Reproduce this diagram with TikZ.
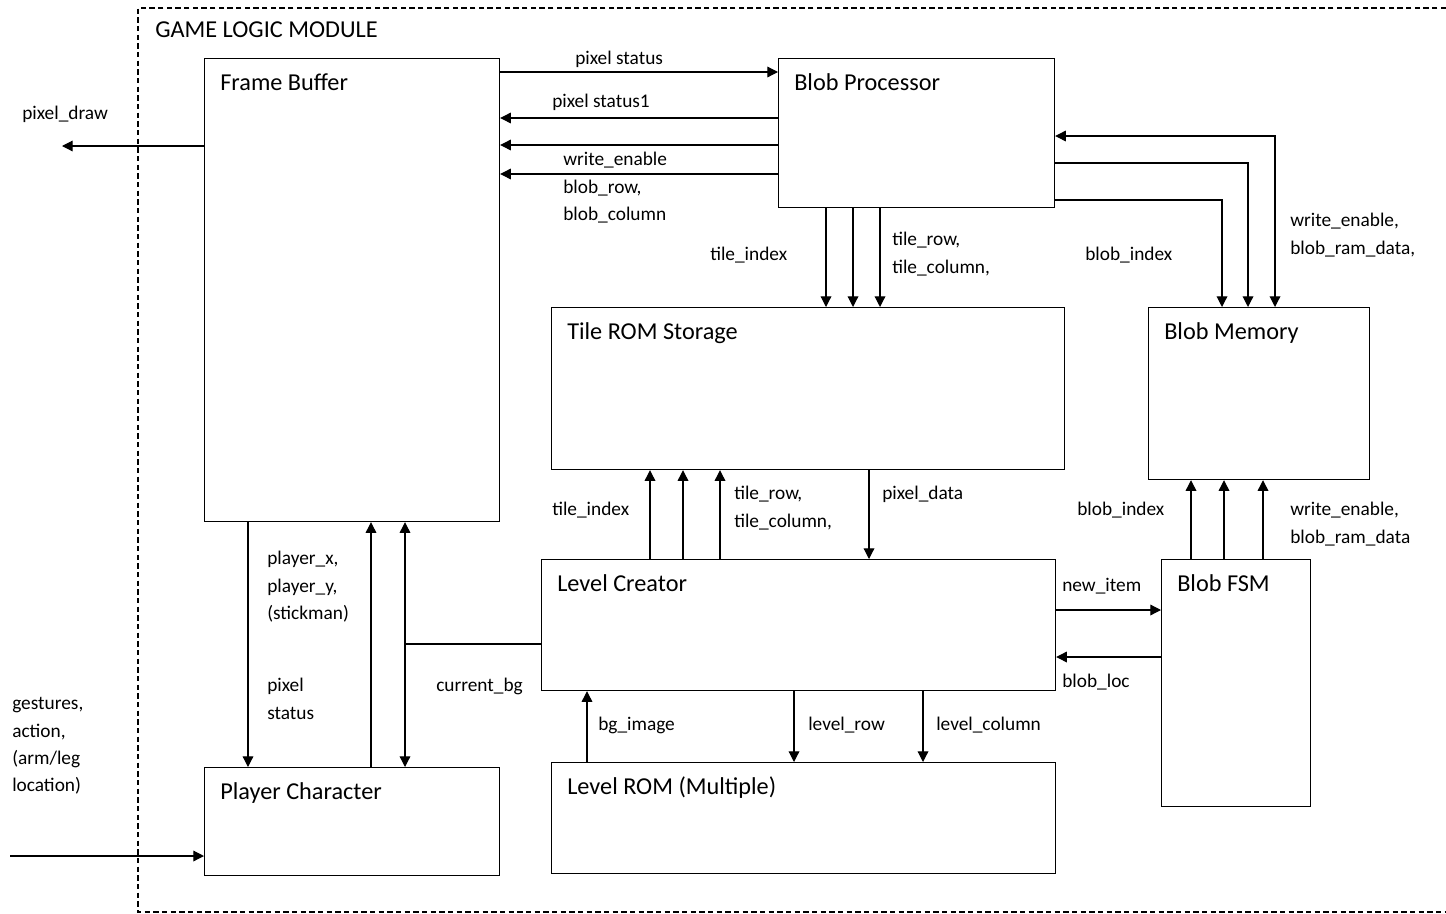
\documentclass[tikz,border=0pt]{standalone}
\usepackage{fontspec}
\setmainfont{Carlito}
\usetikzlibrary{arrows.meta}

\tikzset{
  block/.style={draw, line width=0.9pt, inner sep=0pt, anchor=north west},
  blocktitle/.style={anchor=base west, inner sep=0pt, xshift=12pt, yshift=-24pt,
    font=\fontsize{18.2}{20}\selectfont},
  sig/.style={anchor=west, align=left, inner sep=0pt,
    font=\fontsize{14.5}{20.6}\selectfont},
  wire/.style={line width=0.9pt, -{Triangle[length=8pt,width=8pt]}},
  wiretwo/.style={line width=0.9pt, {Triangle[length=8pt,width=8pt]}-{Triangle[length=8pt,width=8pt]}},
  plainwire/.style={line width=0.9pt}
}

\begin{document}
\begin{tikzpicture}[x=0.75pt, y=-0.75pt]
  \useasboundingbox (0,0) rectangle (1446,914);

  % module frame
  \draw[line width=0.8pt, dash pattern=on 4pt off 2.5pt]
    (1446,8) -- (138,8) -- (138,912) -- (1446,912);
  \node[anchor=west, inner sep=0pt, font=\fontsize{18.2}{20}\selectfont] (glm) at (155,30) {GAME LOGIC MODULE};

  % blocks
  \node[block, minimum width=221.25pt, minimum height=347.25pt] (fb)   at (204,58)  {};
  \node[block, minimum width=207pt,    minimum height=111.75pt] (bp)   at (778,58)  {};
  \node[block, minimum width=384.75pt, minimum height=121.5pt]  (tr)   at (551,307) {};
  \node[block, minimum width=165.75pt, minimum height=129pt]    (bm)   at (1148,307) {};
  \node[block, minimum width=385.5pt,  minimum height=98.25pt]  (lc)   at (541,559) {};
  \node[block, minimum width=111.75pt, minimum height=185.25pt] (bfsm) at (1161,559) {};
  \node[block, minimum width=221.25pt, minimum height=81pt]     (pc)   at (204,767) {};
  \node[block, minimum width=378pt,    minimum height=83.25pt]  (lr)   at (551,762) {};

  \node[blocktitle] (fbt)   at (fb.north west)   {Frame Buffer};
  \node[blocktitle] (bpt)   at (bp.north west)   {Blob Processor};
  \node[blocktitle] (trt)   at (tr.north west)   {Tile ROM Storage};
  \node[blocktitle] (bmt)   at (bm.north west)   {Blob Memory};
  \node[blocktitle] (lct)   at (lc.north west)   {Level Creator};
  \node[blocktitle] (bfsmt) at (bfsm.north west) {Blob FSM};
  \node[blocktitle] (pct)   at (pc.north west)   {Player Character};
  \node[blocktitle] (lrt)   at (lr.north west)   {Level ROM (Multiple)};

  % free ends
  \coordinate (pdout) at (62,146);
  \coordinate (gin)   at (10,856);
  \coordinate (cbg)   at (405,644);

  % frame buffer <-> blob processor
  \draw[wire] (fb.east |- 0,72)  -- (bp.west |- 0,72);
  \draw[wire] (bp.west |- 0,118) -- (fb.east |- 0,118);
  \draw[wire] (bp.west |- 0,145) -- (fb.east |- 0,145);
  \draw[wire] (bp.west |- 0,174) -- (fb.east |- 0,174);
  \draw[wire] (fb.west |- 0,146) -- (pdout);

  % blob processor -> tile rom, blob memory
  \foreach \x in {826,853,880}
    \draw[wire] (bp.south -| \x,0) -- (tr.north -| \x,0);
  \draw[wiretwo] (bm.north -| 1275,0) |- (bp.east |- 0,136);
  \draw[wire] (bp.east |- 0,163) -| (bm.north -| 1248,0);
  \draw[wire] (bp.east |- 0,200) -| (bm.north -| 1222,0);

  % level creator <-> tile rom
  \foreach \x in {650,683,720}
    \draw[wire] (lc.north -| \x,0) -- (tr.south -| \x,0);
  \draw[wire] (tr.south -| 869,0) -- (lc.north -| 869,0);

  % blob fsm
  \foreach \x in {1191,1224,1263}
    \draw[wire] (bfsm.north -| \x,0) -- (bm.south -| \x,0);
  \draw[wire] (lc.east |- 0,610) -- (bfsm.west |- 0,610);
  \draw[wire] (bfsm.west |- 0,657) -- (lc.east |- 0,657);

  % level creator <-> level rom
  \foreach \x in {794,923}
    \draw[wire] (lc.south -| \x,0) -- (lr.north -| \x,0);
  \draw[wire] (lr.north -| 587,0) -- (lc.south -| 587,0);

  % player character
  \draw[wire] (fb.south -| 248,0) -- (pc.north -| 248,0);
  \draw[wire] (pc.north -| 371,0) -- (fb.south -| 371,0);
  \draw[wiretwo] (fb.south -| 405,0) -- (pc.north -| 405,0);
  \draw[plainwire] (lc.west |- 0,644) -- (cbg);
  \draw[wire] (gin) -- (pc.west |- 0,856);

  % signal labels
  \node[sig] (lpixstat)  at (575,59)   {pixel status};
  \node[sig] (lpixstatb) at (552,102)  {pixel status1};
  \node[sig] (lwe)       at (563,188)  {write\_enable\\blob\_row,\\blob\_column};
  \node[sig] (lpixdraw)  at (22,114)   {pixel\_draw};
  \node[sig] (ltidx)     at (710,255)  {tile\_index};
  \node[sig] (ltrc)      at (892,254)  {tile\_row,\\tile\_column,};
  \node[sig] (lbidx)     at (1085,255) {blob\_index};
  \node[sig] (lbram)     at (1290,235) {write\_enable,\\blob\_ram\_data,};
  \node[sig] (ltidxb)    at (552,510)  {tile\_index};
  \node[sig] (ltrcb)     at (734,508)  {tile\_row,\\tile\_column,};
  \node[sig] (lpixdata)  at (882,494)  {pixel\_data};
  \node[sig] (lbidxb)    at (1077,510) {blob\_index};
  \node[sig] (lbramb)    at (1290,524) {write\_enable,\\blob\_ram\_data};
  \node[sig] (lnew)      at (1062,586) {new\_item};
  \node[sig] (lloc)      at (1062,682) {blob\_loc};
  \node[sig] (lbg)       at (598,725)  {bg\_image};
  \node[sig] (llrow)     at (808,725)  {level\_row};
  \node[sig] (llcol)     at (936,725)  {level\_column};
  \node[sig] (lplayer)   at (267,587)  {player\_x,\\player\_y,\\(stickman)};
  \node[sig] (lpstat)    at (267,699)  {pixel\\status};
  \node[sig] (lcbg)      at (436,686)  {current\_bg};
  \node[sig] (lgest)     at (12,746)   {gestures,\\action,\\(arm/leg\\location)};
\end{tikzpicture}
\end{document}
